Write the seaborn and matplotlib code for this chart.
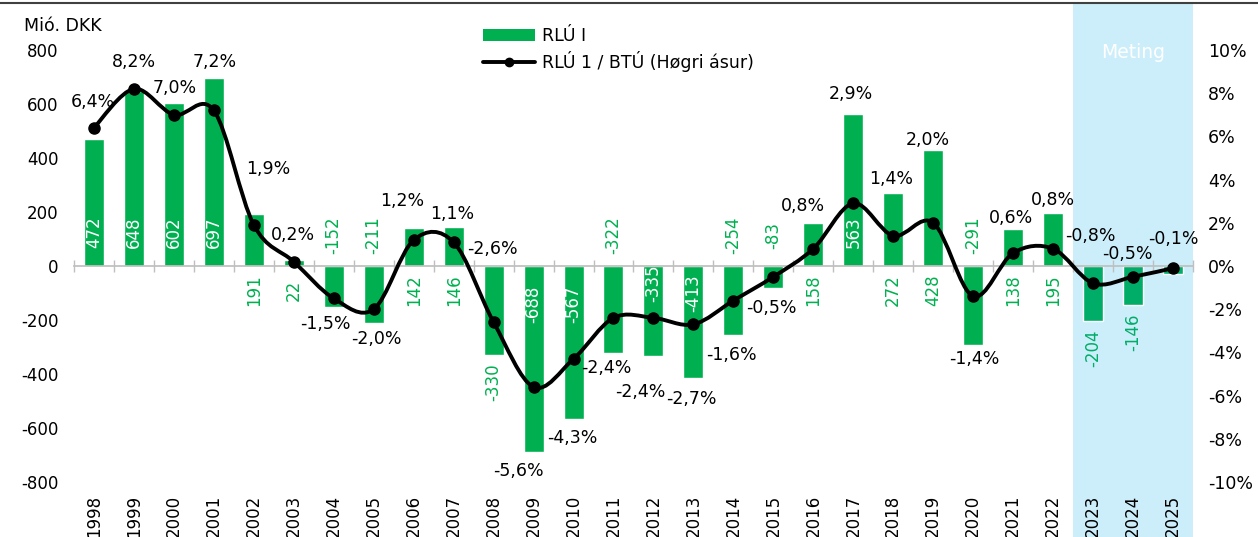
import numpy as np
import pandas as pd
import matplotlib
matplotlib.use("Agg")
import matplotlib.pyplot as plt
import seaborn as sns
from matplotlib.path import Path
from matplotlib.patches import PathPatch, Patch
from matplotlib.lines import Line2D

# --- data ---
years = [str(y) for y in range(1998, 2026)]
rlu = [472, 648, 602, 697, 191, 22, -152, -211, 142, 146, -330, -688, -567, -322,
       -335, -413, -254, -83, 158, 563, 272, 428, -291, 138, 195, -204, -146, -30]
rlu_btu = [6.4, 8.2, 7.0, 7.2, 1.9, 0.2, -1.5, -2.0, 1.2, 1.1, -2.6, -5.6, -4.3, -2.4,
           -2.4, -2.7, -1.6, -0.5, 0.8, 2.9, 1.4, 2.0, -1.4, 0.6, 0.8, -0.8, -0.5, -0.1]
forecast = ["2023", "2024", "2025"]

# placement of labels (style only)
bar_lab_mode = ["in", "in", "in", "in", "base", "base", "base", "base", "base", "base",
                "end", "in", "in", "base", "in", "in", "base", "base", "base", "in",
                "base", "base", "base", "base", "base", "end", "end", None]
neg_in_off = {"2012": -17, "2013": -27}
pct_off = [(-1, 26), (0, 27), (1, 27), (1, 48), (14, 56), (-1, 27), (-8, -26), (3, -30),
           (-11, 39), (-1, 28), (-1, 73), (-15, -84), (-1, -79), (-7, -50), (-13, -74),
           (-2, -75), (-2, -54), (-2, -31), (-10, 43), (-2, 109), (-2, 57), (-5, 83),
           (1, -63), (-2, 35), (0, 49), (-3, 47), (-6, 23), (0, 29)]

GREEN = "#00B050"
GREEN_F = "#00AD68"
BAND = "#CCEEFA"
GREY = "#BFBFBF"

sns.set_theme(style="white")
plt.rcParams["font.family"] = ["DejaVu Sans"]
plt.rcParams["axes.unicode_minus"] = False
plt.rcParams["text.color"] = "black"

df = pd.DataFrame({"ar": years, "rlu": rlu})
farvar = [GREEN_F if y in forecast else GREEN for y in years]

fig = plt.figure(figsize=(12.58, 5.37), dpi=100)
ax = fig.add_axes([0.0588, 0.1024, 0.8895, 0.8045])

sns.barplot(data=df, x="ar", y="rlu", hue="ar", palette=farvar, legend=False,
            width=0.5, ax=ax, saturation=1, zorder=2)

ax.set_xlim(-0.5, len(years) - 0.5)
ax.set_ylim(-800, 800)
ax.set_xlabel("")
ax.set_ylabel("")

# prognose-band
ax.axvspan(years.index(forecast[0]) - 0.5, len(years) - 0.5, ymin=-0.128, ymax=1.11,
           color=BAND, lw=0, zorder=0, clip_on=False)
ax.text(years.index(forecast[1]), 0.995, "Meting", transform=ax.get_xaxis_transform(),
        ha="center", va="center", color="white", fontsize=13.5, zorder=5)

# akser
for s in ["top", "left", "right"]:
    ax.spines[s].set_visible(False)
ax.spines["bottom"].set_position(("data", 0))
ax.spines["bottom"].set_color(GREY)
ax.set_xticks(np.arange(-0.5, len(years), 1))
ax.tick_params(axis="x", labelbottom=False, direction="inout", length=8, color=GREY,
               width=1, bottom=True)
ax.set_yticks(range(-800, 801, 200))
ax.set_yticklabels([str(v) for v in range(-800, 801, 200)])
ax.tick_params(axis="y", length=0, pad=11, labelsize=12, labelcolor="black")

sec = ax.secondary_xaxis(0)
sec.set_xticks(range(len(years)), labels=years, rotation=90)
sec.tick_params(length=0, pad=9, labelsize=12, labelcolor="black")
sec.spines["bottom"].set_visible(False)

# bar labels
for i, (v, m) in enumerate(zip(rlu, bar_lab_mode)):
    if m is None:
        continue
    xy, col = (i, 0), GREEN
    if m == "in":
        col = "white"
        off = 34 if v > 0 else neg_in_off.get(years[i], -38)
    elif m == "base":
        off = -24 if v > 0 else 31
    else:
        xy, off = (i, v), -27
    if years[i] in forecast:
        col = GREEN_F
    ax.annotate(str(v), xy=xy, xytext=(0, off), textcoords="offset pixels",
                rotation=90, ha="center", va="center", color=col, fontsize=12, zorder=6)

# linje på højre akse
ax2 = ax.twinx()
ax2.set_ylim(-10, 10)
for s in ax2.spines.values():
    s.set_visible(False)
ax2.set_yticks(range(-10, 11, 2))
ax2.set_yticklabels([f"{v}%" for v in range(-10, 11, 2)])
ax2.tick_params(axis="y", length=0, pad=11, labelsize=12.5, labelcolor="black")
ax2.grid(False)

pts = np.column_stack([np.arange(len(years)), rlu_btu])
verts, codes = [pts[0]], [Path.MOVETO]
n = len(pts)
for i in range(n - 1):
    p0 = pts[max(i - 1, 0)]
    p1, p2 = pts[i], pts[i + 1]
    p3 = pts[min(i + 2, n - 1)]
    verts += [p1 + (p2 - p0) / 6, p2 - (p3 - p1) / 6, p2]
    codes += [Path.CURVE4] * 3
ax2.add_patch(PathPatch(Path(verts, codes), facecolor="none", edgecolor="black",
                        lw=2.8, capstyle="round", joinstyle="round", zorder=3))
ax2.plot(range(len(years)), rlu_btu, "o", color="black", ms=8, zorder=4)

for i, (p, (dx, dy)) in enumerate(zip(rlu_btu, pct_off)):
    ax2.annotate(f"{p:.1f}%".replace(".", ","), xy=(i, p), xytext=(dx, dy),
                 textcoords="offset pixels", ha="center", va="center",
                 fontsize=12.5, color="black", zorder=6)

# tekst og legend
fig.text(24 / 1258, 1 - 26 / 537, "Mió. DKK", ha="left", va="center", fontsize=12.5,
         color="black")
fig.add_artist(Line2D([0, 1], [1 - 3 / 537, 1 - 3 / 537], color="#404040", lw=1.5,
                      transform=fig.transFigure))

handles = [Patch(facecolor=GREEN, edgecolor="none"),
           Line2D([], [], color="black", lw=2.8, marker="o", ms=6)]
leg = fig.legend(handles, ["RLÚ I", "RLÚ 1 / BTÚ (Høgri ásur)"], loc="upper left",
                 bbox_to_anchor=(483 / 1258, 1 - 27 / 537), frameon=False, fontsize=12.5,
                 handlelength=3.0, handletextpad=0.4, labelspacing=0.35, borderpad=0,
                 borderaxespad=0)
for t in leg.get_texts():
    t.set_color("black")

fig.savefig("out.png", dpi=100)
